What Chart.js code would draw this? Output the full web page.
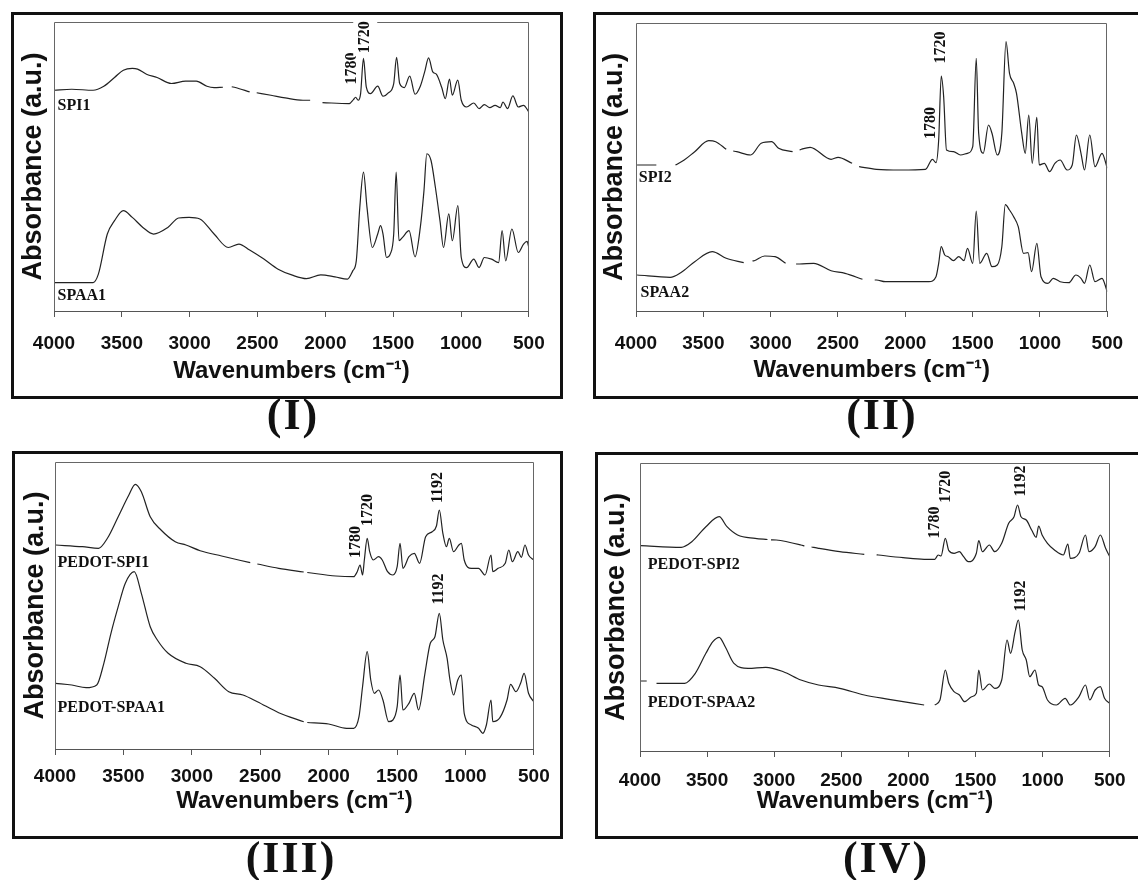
<!DOCTYPE html>
<html><head><meta charset="utf-8">
<script src="https://cdn.jsdelivr.net/npm/chart.js@4.4.1/dist/chart.umd.min.js"></script>
<style>
html,body{margin:0;padding:0;background:#fff;}
body{width:1138px;height:880px;position:relative;overflow:hidden;}
.box{position:absolute;border:3px solid #111;box-sizing:border-box;}
canvas{position:absolute;}
.cap{position:absolute;width:200px;text-align:center;font-family:"Liberation Serif","Times New Roman",serif;font-weight:bold;font-size:44px;line-height:44px;color:#111;letter-spacing:2px;}
</style></head><body>
<div class="box" style="left:11px;top:12px;width:552px;height:387px"></div>
<div class="box" style="left:593px;top:12px;width:600px;height:387px"></div>
<div class="box" style="left:12px;top:451px;width:551px;height:388px"></div>
<div class="box" style="left:595px;top:452px;width:600px;height:387px"></div>
<canvas id="c1" width="546" height="381" style="left:14px;top:15px"></canvas>
<canvas id="c2" width="542" height="381" style="left:596px;top:15px"></canvas>
<canvas id="c3" width="545" height="381" style="left:15px;top:455px"></canvas>
<canvas id="c4" width="540" height="381" style="left:598px;top:455px"></canvas>
<div class="cap" style="left:193px;top:393px">(I)</div>
<div class="cap" style="left:782px;top:393px">(II)</div>
<div class="cap" style="left:191px;top:836px">(III)</div>
<div class="cap" style="left:786px;top:836px">(IV)</div>
<script>
// ---- tick labels (cm^-1) ----
const xTicks = [4000,3500,3000,2500,2000,1500,1000,500];

// ---- Panel I ----
const spi1Wn = [4000,3869,3712,3633,3554,3489,3423,3384,3318,3240,3135,3030,2951,2873,2820,2755,2722,2690,2663,2558,2530,2506,2401,2296,2165,2112,2070,2021,1824,1793,1777,1758,1740,1719,1698,1667,1614,1575,1536,1496,1475,1452,1418,1378,1339,1300,1268,1239,1208,1182,1142,1116,1085,1064,1024,998,959,906,867,828,788,749,710,691,657,618,578,539,500];
const spi1Abs = [220,221,220,224,232.7,240,241.7,241,236,232.7,226.7,229,229,224,222.7,223,null,223.5,222.7,218.3,null,217.5,215,212.3,210,210,null,207.7,206.7,210.7,213,210,216.7,251.7,223,216.7,224,214,217.3,226.7,252.7,226.7,222.7,234,216,224,238.3,252.3,238.3,236,222.7,211.7,231,215,230,210,203.3,207.3,201.7,205.7,202.7,205,202.7,208.3,201.7,214.3,203.3,205,198.3];
const spaa1Wn = [4000,3712,3673,3607,3554,3489,3423,3345,3266,3161,3082,3004,2925,2820,2715,2637,2558,2453,2348,2243,2139,2034,1929,1837,1798,1772,1746,1719,1693,1654,1614,1593,1575,1549,1522,1496,1478,1457,1431,1383,1339,1300,1273,1252,1221,1189,1155,1129,1090,1064,1023,998,959,906,867,828,775,723,697,671,625,578,539,513,500];
const spaa1Abs = [28.3,28.3,36.7,76.7,90,100,93.3,83.3,76.7,83.3,92.7,93.3,91.7,76.7,63.3,66.7,60.7,51.7,41.7,35.7,32.3,36,34,31.7,40,50,103.3,138.3,103.3,63.3,76.7,85,76.7,53.3,56.7,76.7,138.3,70,73.3,80,54,83.3,120,156.7,150,123.3,90,63.3,96.7,70,105,53.3,43.3,51.7,43.3,53.3,51.7,48.3,80,50,81.7,58.3,66.7,69.3,63.3];

// ---- Panel II ----
const spi2Wn = [3992,3849,3820,3707,3642,3564,3460,3408,3330,3317,3278,3252,3148,3070,2993,2941,2837,2810,2785,2772,2707,2551,2499,2395,2369,2343,2214,2032,1850,1798,1772,1752,1733,1715,1694,1642,1590,1538,1499,1473,1455,1421,1382,1356,1317,1283,1252,1226,1195,1174,1135,1109,1083,1057,1023,1005,967,928,889,850,798,760,729,695,669,630,591,539,500];
const spi2Abs = [146,146,null,146,151,159.3,170.3,169.3,161.7,null,160,159.3,156,167.7,169.3,162.7,159.3,null,161,161.7,163.7,151.7,153.7,147.7,null,144.3,141.7,141,141.7,151.7,148.3,171,235,214.3,161,159.3,156,157.7,164.3,252.7,177.7,157.7,186,177.7,156,177.7,269.3,237.7,227.7,217.7,177.7,157.7,196,147.7,193.7,146,147.7,139.3,147.7,151,141,146,176,157.7,141,176,144.3,157.7,142.7];
const spaa2Wn = [3992,3746,3668,3564,3434,3330,3200,3187,3135,3122,3044,2967,2889,2863,2811,2785,2681,2551,2447,2318,2270,2227,2214,2149,1824,1772,1752,1733,1707,1681,1642,1603,1564,1538,1499,1473,1447,1395,1356,1317,1283,1257,1226,1195,1161,1122,1088,1062,1023,992,940,901,850,785,733,695,669,630,591,539,500];
const spaa2Abs = [36,33.7,38.3,49.3,59.3,52.7,48.3,null,50,50.3,55,54.3,47.7,null,47,47,47.7,40.3,37.7,31.7,null,31,31,29.3,29.3,34.3,47.7,64.3,56,54.3,50.3,54.3,50.3,62.7,47.7,100,47.7,57.7,44.3,46,64.3,106.3,101,94.3,84.3,57.7,58.3,39.3,67.7,34.3,27.7,32.7,29.3,28.3,36,32.7,27.7,46,29.3,32.7,19.3];

// ---- Panel III ----
const pspi1Wn = [3995,3799,3682,3617,3538,3460,3413,3369,3304,3225,3121,3043,2939,2782,2573,2547,2521,2365,2182,2169,2156,1947,1817,1791,1770,1752,1739,1718,1700,1674,1635,1608,1569,1530,1499,1478,1457,1413,1374,1335,1291,1243,1212,1191,1165,1139,1118,1087,1048,1030,1009,957,904,857,813,800,761,709,683,657,617,591,565,539,500];
const pspi1Abs = [204,202.3,200.7,210.7,232.3,254,264.7,257.3,232.3,219,207.3,204,198.3,193,186.3,null,185,180.7,177,null,176.5,173,172.3,177.3,184,174,189,210.7,197.3,189,192.3,189,177.3,174,182.3,205.7,180.7,192.3,195.7,185.7,212.3,217.3,223,239,215.7,202.3,210.7,197.3,204,205.7,189,180.7,180.7,174,194,177.3,180.7,185.7,199,187.3,197.3,191.7,204,194,189];
const pspaa1Wn = [3995,3877,3773,3695,3643,3591,3538,3486,3421,3369,3304,3252,3173,3043,2939,2834,2730,2626,2521,2365,2182,2169,2156,2000,1869,1817,1778,1752,1718,1692,1666,1635,1603,1561,1530,1499,1478,1457,1413,1374,1343,1296,1257,1223,1191,1165,1134,1113,1087,1056,1030,1009,957,904,873,847,813,800,748,696,670,631,597,571,539,500];
const pspaa1Abs = [65.7,64,61.3,64,85.7,115.7,142.3,165.7,177.3,155.7,122.3,109,95.7,85.7,82.3,70.7,57.3,54,47.3,36.3,27.3,null,26.5,25,20.7,20.7,32.3,62.3,97.3,69,55.7,59,49,27.3,29,42.3,74,39,45.7,55.7,39,75.7,105.7,112.3,135.7,109,90.7,69,54,69,74,35.7,24,20.7,15.7,24,49,27.3,31.3,49,64.7,57.3,65.7,75.7,55.7,47.3];

// ---- Panel IV ----
const pspi2Wn = [3995,3693,3614,3509,3410,3352,3273,3142,3050,3037,3024,2985,2801,2775,2748,2722,2670,2512,2329,2283,2237,2224,2040,1883,1804,1778,1757,1725,1699,1660,1620,1589,1555,1494,1476,1449,1397,1357,1305,1253,1213,1187,1161,1122,1082,1048,1030,1004,964,912,846,812,794,729,681,655,609,570,531,500];
const pspi2Abs = [205.3,203.7,209.3,224.3,234.3,224.3,216,212.7,211.5,null,211.2,211,206,205,null,204,202.7,199.3,196.7,null,196.2,196,193.3,191.7,191.7,196,195,212.7,200.3,197.7,199.3,194.3,189.3,197.7,210.3,199.3,206,199.3,207.7,227.7,234.3,246,234.3,231,221,213.7,225,216,207.7,201,196,207,192.7,197.7,216,199.3,204.3,216,202.7,194.3];
const pspaa2Wn = [3995,3950,3915,3877,3667,3588,3509,3457,3410,3365,3300,3195,3063,2932,2801,2670,2512,2329,2145,1883,1850,1804,1765,1725,1699,1660,1620,1581,1529,1494,1476,1449,1397,1357,1305,1265,1239,1205,1181,1152,1122,1096,1057,1030,1004,964,898,832,794,729,681,649,609,570,539,500];
const pspaa2Abs = [70,70,null,67.7,67.7,77.7,97.7,109.3,113.7,104.3,87.7,82.7,83.7,79.3,71,66,62.7,56,51.7,46,null,46,51,81,67.7,59.3,56,49.3,54.3,57.7,81,61,67,62.7,71,111,97.7,119.3,131,101,91,74.3,81,66,64.3,51,46,52.7,46,54.3,66,51,61,64.3,52.7,47.7];

const SANS = '"Liberation Sans", Arial, sans-serif';
const SERIF = '"Liberation Serif", "Times New Roman", serif';

function pts(wn, ab){ return wn.map((w,i)=>({x:w, y:ab[i]})); }

const annotPlugin = {
  id:'annot',
  afterDatasetsDraw(chart, args, opts){
    const {ctx, chartArea:a} = chart;
    const xs = chart.scales.x, ys = chart.scales.y;
    ctx.save();
    ctx.strokeStyle = '#666'; ctx.lineWidth = 1;
    const L = Math.round(a.left)+0.5, R = Math.round(a.right)-0.5, T = Math.round(a.top)+0.5, B = Math.round(a.bottom);
    ctx.beginPath(); ctx.moveTo(L,B); ctx.lineTo(L,T); ctx.lineTo(R,T); ctx.lineTo(R,B); ctx.stroke();
    ctx.fillStyle = '#111';
    ctx.font = 'bold 16px ' + SERIF;
    ctx.textBaseline = 'middle'; ctx.textAlign = 'left';
    (opts.labels||[]).forEach(l => ctx.fillText(l.t, xs.getPixelForValue(l.x), ys.getPixelForValue(l.y)));
    (opts.peaks||[]).forEach(p => {
      const px = xs.getPixelForValue(p.x), py = ys.getPixelForValue(p.y);
      ctx.save(); ctx.translate(px, py); ctx.rotate(-Math.PI/2);
      ctx.textAlign = 'center';
      if (p.bg) { const w = ctx.measureText(p.t).width; ctx.fillStyle='#fff'; ctx.fillRect(-w/2-3, -12, w+6, 24); ctx.fillStyle='#111'; }
      ctx.fillText(p.t, 0, 0);
      ctx.restore();
    });
    ctx.restore();
  }
};

function makeChart(id, c){
  new Chart(document.getElementById(id), {
    type:'line',
    data:{datasets: c.series.map(s=>({data:pts(s[0], s[1]), borderColor:'#222', borderWidth:1.2, pointRadius:0, cubicInterpolationMode:'monotone', spanGaps:false, fill:false}))},
    options:{
      responsive:false, animation:false, devicePixelRatio:1,
      layout:{padding:{left:0, right:c.padR, top:c.padT, bottom:0}},
      plugins:{legend:{display:false}, tooltip:{enabled:false}, annot:{labels:c.labels, peaks:c.peaks}},
      scales:{
        x:{type:'linear', reverse:true, min:500, max:4000,
           afterBuildTicks: s=>{ s.ticks = xTicks.map(v=>({value:v})); },
           ticks:{callback:v=>String(v), font:{family:SANS, size:19, weight:'bold'}, color:'#111', padding:c.tickPad, maxRotation:0, autoSkip:false},
           grid:{display:true, drawOnChartArea:false, drawTicks:true, tickLength:6, color:'#555', lineWidth:1},
           border:{display:true, color:'#555', width:1},
           title:{display:true, text:'Wavenumbers (cm\u207B\u00B9)', font:{family:SANS, size:24, weight:'bold'}, color:'#111', padding:{top:0, bottom:c.titlePadB}},
           afterFit: s=>{ s.height = c.xH; }},
        y:{min:0, max:c.yMax, ticks:{display:false}, grid:{display:false}, border:{display:false},
           title:{display:true, text:'Absorbance (a.u.)', font:{family:SANS, size:27, weight:'bold'}, color:'#111', padding:{top:c.yTitlePad, bottom:0}},
           afterFit: s=>{ s.width = c.yW; }}
      }
    },
    plugins:[annotPlugin]
  });
}

makeChart('c1', {series:[[spi1Wn,spi1Abs],[spaa1Wn,spaa1Abs]], padR:20, padT:7, yW:40, xH:85, tickPad:15.3, titlePadB:9.9, yTitlePad:3.8, yMax:288,
  labels:[{t:'SPI1', x:3974, y:204},{t:'SPAA1', x:3974, y:15}],
  peaks:[{t:'1780', x:1803, y:241.7},{t:'1720', x:1706, y:272.7, bg:true}]});
makeChart('c2', {series:[[spi2Wn,spi2Abs],[spaa2Wn,spaa2Abs]], padR:14, padT:8, yW:40, xH:85, tickPad:14.9, titlePadB:11.6, yTitlePad:2.8, yMax:288,
  labels:[{t:'SPI2', x:3979, y:133},{t:'SPAA2', x:3966, y:18}],
  peaks:[{t:'1780', x:1811, y:188},{t:'1720', x:1733, y:263.5}]});
makeChart('c3', {series:[[pspi1Wn,pspi1Abs],[pspaa1Wn,pspaa1Abs]], padR:17, padT:7, yW:40, xH:87, tickPad:10.3, titlePadB:19.9, yTitlePad:4.8, yMax:287,
  labels:[{t:'PEDOT-SPI1', x:3982, y:185.7},{t:'PEDOT-SPAA1', x:3982, y:40.7}],
  peaks:[{t:'1780', x:1804, y:207},{t:'1720', x:1713, y:239},{t:'1192', x:1204, y:261.5},{t:'1192', x:1196, y:160}]});
makeChart('c4', {series:[[pspi2Wn,pspi2Abs],[pspaa2Wn,pspaa2Abs]], padR:13, padT:8, yW:42, xH:85, tickPad:12.4, titlePadB:19.9, yTitlePad:2.8, yMax:288,
  labels:[{t:'PEDOT-SPI2', x:3942, y:186},{t:'PEDOT-SPAA2', x:3942, y:47.7}],
  peaks:[{t:'1780', x:1804, y:228.5},{t:'1720', x:1720, y:264.3},{t:'1192', x:1161, y:270},{t:'1192', x:1161, y:155}]});
</script>
</body></html>
